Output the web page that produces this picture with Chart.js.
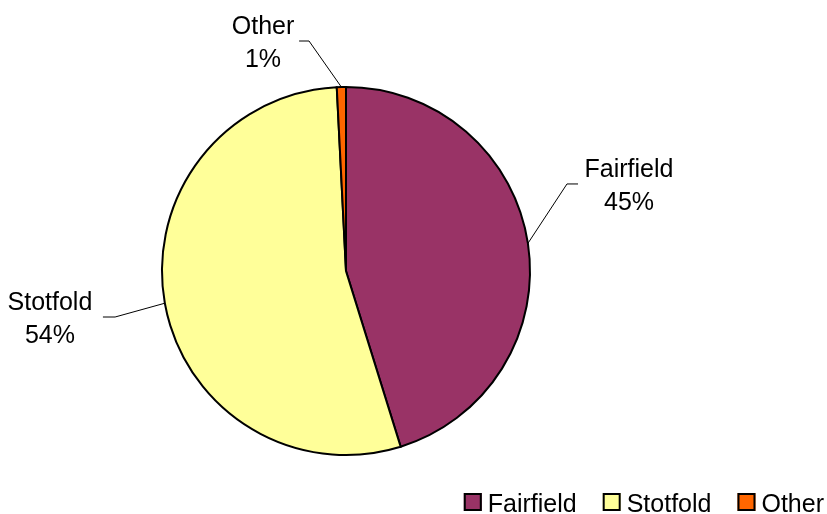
<!DOCTYPE html>
<html>
<head>
<meta charset="utf-8">
<script src="https://cdn.jsdelivr.net/npm/chart.js@4.4.1/dist/chart.umd.min.js"></script>
<style>
  html, body { margin: 0; padding: 0; background: #fff; }
  #chart-area { width: 827px; height: 514px; }
</style>
</head>
<body>
<div id="chart-area"><canvas id="pie"></canvas></div>
<script>
var categories = ['Fairfield', 'Stotfold', 'Other'];
var shares = [45.2, 54.0, 0.8];
var sliceColors = ['#993366', '#FFFF99', '#FF6600'];

// label anchors, in units of the pie radius from its centre:
// [elbow x, line end x, y, text centre x]
var labelSpots = [
  [1.201, 1.261, -0.473, 1.538],
  [-1.255, -1.321, 0.25, -1.609],
  [-0.201, -0.255, -1.25, -0.451]
];

const FONT = '"Liberation Sans", Arial, sans-serif';

const pieLabels = {
  id: 'pieLabels',
  afterDatasetsDraw: function (chart) {
    var ctx = chart.ctx;
    var meta = chart.getDatasetMeta(0);
    var total = shares.reduce(function (a, b) { return a + b; }, 0);
    ctx.save();
    ctx.strokeStyle = '#000';
    ctx.lineWidth = 1;
    ctx.fillStyle = '#000';
    ctx.font = '25px ' + FONT;
    ctx.textAlign = 'center';
    ctx.textBaseline = 'middle';
    meta.data.forEach(function (arc, i) {
      var r = arc.outerRadius;
      var mid = (arc.startAngle + arc.endAngle) / 2;
      var sx = arc.x + Math.cos(mid) * r;
      var sy = arc.y + Math.sin(mid) * r;
      var s = labelSpots[i];
      var ey = arc.y + s[2] * r;
      ctx.beginPath();
      ctx.moveTo(sx, sy);
      ctx.lineTo(arc.x + s[0] * r, ey);
      ctx.lineTo(arc.x + s[1] * r, ey);
      ctx.stroke();
      var tx = arc.x + s[3] * r;
      ctx.fillText(categories[i], tx, ey - 14);
      ctx.fillText(Math.round(shares[i] / total * 100) + '%', tx, ey + 19);
    });
    ctx.restore();
  }
};

// legend bottom right, drawn by hand so the pie padding does not push it
const pieLegend = {
  id: 'pieLegend',
  afterDraw: function (chart) {
    var ctx = chart.ctx;
    ctx.save();
    ctx.font = '25px ' + FONT;
    ctx.textBaseline = 'alphabetic';
    var box = 18, gap = 6, between = 26;
    var widths = categories.map(function (c) { return ctx.measureText(c).width; });
    var total = 0;
    widths.forEach(function (w, i) { total += box + gap + w + (i ? between : 0); });
    var x = 824 - total;
    var base = 512;
    categories.forEach(function (c, i) {
      ctx.fillStyle = sliceColors[i];
      ctx.fillRect(x, base - 19, box, box);
      ctx.strokeStyle = '#000';
      ctx.lineWidth = 2;
      ctx.strokeRect(x + 1, base - 18, box - 2, box - 2);
      ctx.fillStyle = '#000';
      ctx.fillText(c, x + box + gap, base);
      x += box + gap + widths[i] + between;
    });
    ctx.restore();
  }
};

const chartDataSet = {
  type: 'pie',
  data: {
    labels: categories,
    datasets: [{
      data: shares,
      backgroundColor: sliceColors,
      borderColor: '#000',
      borderWidth: 2,
      borderJoinStyle: 'miter'
    }]
  },
  options: {
    responsive: false,
    animation: false,
    radius: 184,
    layout: { padding: { top: 28, left: 0, right: 135, bottom: 0 } },
    plugins: {
      tooltip: { enabled: false },
      legend: { display: false }
    }
  },
  plugins: [pieLabels, pieLegend]
};

const cv = document.getElementById('pie');
cv.width = 827;
cv.height = 514;
var myChart = new Chart(cv, chartDataSet);
</script>
</body>
</html>
